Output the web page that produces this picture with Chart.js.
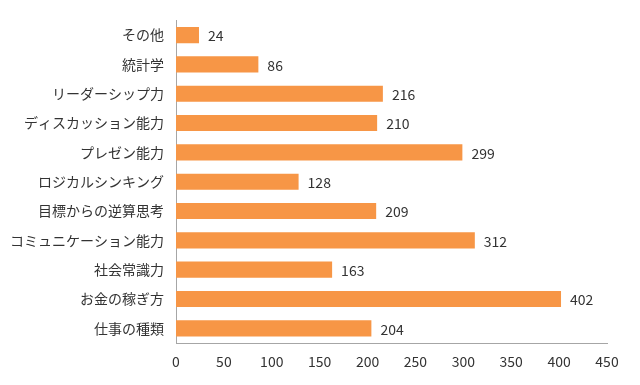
<!DOCTYPE html>
<html>
<head>
<meta charset="utf-8">
<script src="https://cdn.jsdelivr.net/npm/chart.js@4/dist/chart.umd.min.js"></script>
<style>
html,body{margin:0;padding:0;background:#fff;}
#wrap{width:640px;height:385px;position:relative;}
</style>
</head>
<body>
<div id="wrap"><canvas id="c" width="640" height="385"></canvas></div>
<script>
const categories = ["その他","統計学","リーダーシップ力","ディスカッション能力","プレゼン能力","ロジカルシンキング","目標からの逆算思考","コミュニケーション能力","社会常識力","お金の稼ぎ方","仕事の種類"];
const values = [24,86,216,210,299,128,209,312,163,402,204];
const xTicks = [0,50,100,150,200,250,300,350,400,450];

const FONT = '"Noto Sans CJK JP", "Noto Sans", sans-serif';

const valueLabels = {
  id: 'valueLabels',
  afterDatasetsDraw(chart) {
    const ctx = chart.ctx;
    const meta = chart.getDatasetMeta(0);
    ctx.save();
    ctx.font = '14px ' + FONT;
    ctx.fillStyle = '#333333';
    ctx.textAlign = 'left';
    ctx.textBaseline = 'middle';
    meta.data.forEach((bar, i) => {
      ctx.fillText(String(chart.data.datasets[0].data[i]), bar.x + 9, bar.y + 1);
    });
    ctx.restore();
  }
};

new Chart(document.getElementById('c'), {
  type: 'bar',
  data: {
    labels: categories,
    datasets: [{
      data: values,
      backgroundColor: '#F79646',
      borderWidth: 0,
      barPercentage: 0.55,
      categoryPercentage: 1.0
    }]
  },
  plugins: [valueLabels],
  options: {
    indexAxis: 'y',
    responsive: false,
    animation: false,
    devicePixelRatio: 1,
    layout: { padding: { top: 19, right: 33, bottom: 0, left: 0 } },
    plugins: { legend: { display: false }, tooltip: { enabled: false } },
    scales: {
      x: {
        min: 0, max: 450,
        afterBuildTicks(scale) { scale.ticks = xTicks.map(v => ({ value: v })); },
        afterFit(scale) { scale.height = 42; },
        grid: { display: false, drawTicks: false },
        border: { display: true, color: '#a6a6a6', width: 1 },
        ticks: { padding: 10, color: '#333333', font: { family: FONT, size: 14 }, maxRotation: 0 }
      },
      y: {
        afterFit(scale) { scale.width = 176; },
        grid: { display: false, drawTicks: false },
        border: { display: true, color: '#a6a6a6', width: 1 },
        ticks: { padding: 12, color: '#333333', font: { family: FONT, size: 14 } }
      }
    }
  }
});
</script>
</body>
</html>
